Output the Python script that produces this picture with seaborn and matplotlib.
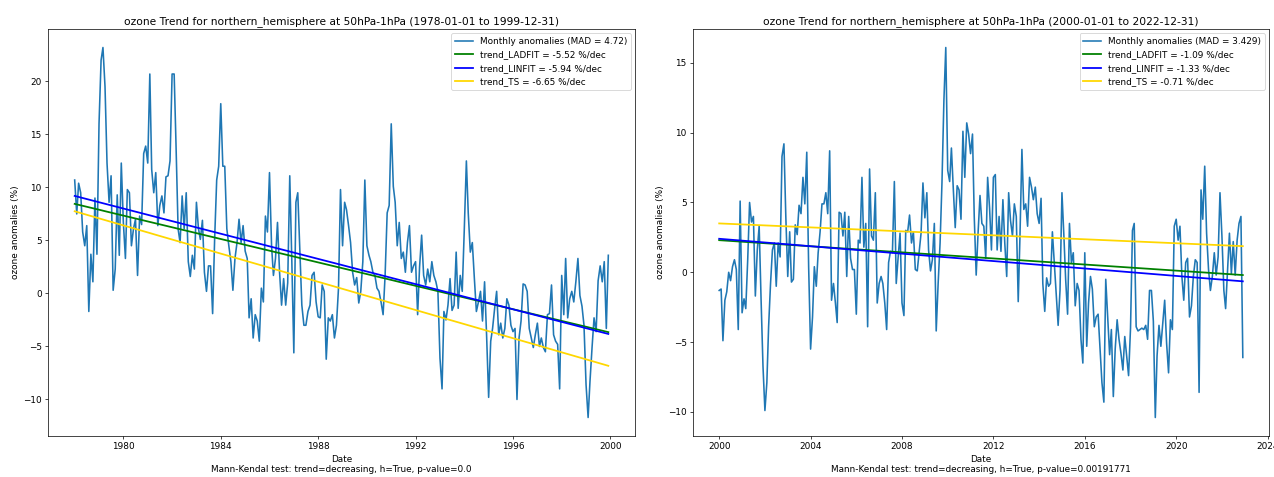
import numpy as np
import pandas as pd
import matplotlib
matplotlib.use("Agg")
import matplotlib.pyplot as plt
import seaborn as sns

# ---------------- data ----------------
start_1 = "1978-01-01"
anom_1 = [
    10.7, 7.5, 10.4, 9.5, 5.8, 4.5, 6.4, -1.7, 3.7, 1.1, 9.0, 3.7,        # 1978
    16.0, 22.0, 23.2, 19.5, 12.3, 8.6, 11.1, 0.3, 2.3, 9.3, 3.6, 12.3,    # 1979
    6.7, 3.3, 9.8, 9.5, 4.5, 6.1, 7.0, 1.7, 7.3, 6.5, 13.2, 13.9,         # 1980
    12.3, 20.7, 11.7, 9.5, 11.4, 6.4, 8.3, 9.2, 7.6, 11.0, 11.1, 12.5,    # 1981
    20.7, 20.7, 14.0, 6.1, 4.8, 9.2, 6.1, 9.5, 3.0, 1.6, 3.6, 2.3,        # 1982
    8.6, 6.1, 5.1, 6.9, 2.0, 0.2, 2.6, 2.6, -1.9, 5.1, 10.7, 12.0,        # 1983
    17.9, 12.0, 12.0, 6.1, 4.5, 3.0, 0.3, 3.3, 4.8, 7.0, 4.8, 6.4,        # 1984
    4.0, 3.3, -2.3, -0.5, -4.2, -2.0, -2.6, -4.5, 0.5, -0.8, 7.3, 5.8,    # 1985
    11.4, 4.5, 1.7, 3.3, 6.7, 2.0, -1.1, 1.4, -1.1, 1.0, 11.1, 3.3,       # 1986
    -5.6, 8.6, 9.5, 4.2, -1.1, -3.0, -3.0, -1.7, -1.1, 1.7, 2.0, -0.8,    # 1987
    -2.2, -2.3, 0.8, 0.2, -6.2, -2.3, -2.6, -2.0, -4.2, -3.0, 0.5, 9.8,   # 1988
    4.5, 8.6, 7.9, 6.4, 4.8, 2.0, 0.8, 1.5, -0.9, 0.2, 3.0, 10.7,         # 1989
    4.5, 3.6, 3.0, 2.0, 1.7, 0.5, 0.2, -0.8, -2.0, 1.7, 7.6, 8.3,         # 1990
    16.0, 10.1, 8.6, 4.5, 6.7, 3.3, 3.9, 2.0, 4.8, 6.4, 2.0, 2.6,         # 1991
    3.0, -2.0, 2.5, 5.5, 1.7, 0.8, 2.3, 1.1, 3.0, 1.7, 1.1, 0.2,          # 1992
    -6.1, -9.0, -1.7, -2.5, -1.1, 1.4, -1.6, -1.1, 3.9, -1.4, 1.7, 0.2,   # 1993
    6.1, 12.5, 7.6, 3.9, 4.8, 1.4, -1.7, -0.8, 0.2, -2.6, 1.1, -3.9,      # 1994
    -9.8, -4.5, -3.3, -1.4, 0.2, -3.9, -2.8, -4.2, -3.3, -0.5, -1.1, -3.0, # 1995
    -3.6, -3.3, -10.0, -4.2, -2.6, 0.9, 0.8, 0.2, -3.3, -4.2, -5.1, -3.9, # 1996
    -2.8, -5.0, -4.2, -5.1, -5.5, -2.0, -1.9, 0.8, -3.9, -4.5, -4.8, -9.0, # 1997
    1.7, -2.0, 3.3, -2.3, -0.5, 0.2, -0.8, 1.1, 3.3, -0.2, -1.2, -3.0,    # 1998
    -8.6, -11.7, -8.3, -5.1, -2.3, -3.6, 1.2, 2.6, 1.1, 3.0, -3.3, 3.6,   # 1999
]
start_2 = "2000-01-01"
anom_2 = [
    -1.3, -1.2, -4.9, -2.0, -1.4, 0.0, -0.6, 0.4, 0.9, 0.2, -4.1, 5.1,    # 2000
    -2.9, -1.9, -2.6, 0.9, 5.0, 3.6, 4.0, -1.7, 1.6, 3.3, -2.0, -6.7,     # 2001
    -9.9, -7.9, -3.9, -0.8, 1.6, 2.1, -1.0, 2.1, 1.1, 8.3, 9.2, 4.0,      # 2002
    -0.3, 2.9, -0.7, -0.5, 3.4, 2.7, 4.8, 4.2, 6.8, 4.9, 8.6, 0.4,        # 2003
    -5.5, -3.2, 0.4, -1.0, 1.4, 2.9, 4.9, 4.9, 5.7, 4.2, 8.7, -2.0,       # 2004
    -0.8, -2.2, -3.6, 4.3, 4.2, 2.6, 4.3, -0.3, 4.0, 1.0, 0.2, 0.2,       # 2005
    -3.0, 2.3, 2.1, 6.8, 1.8, 3.5, -3.9, 7.4, 2.6, 2.3, 5.7, -2.2,        # 2006
    -0.8, -0.3, -0.8, -2.2, -4.1, 0.7, 1.5, 1.4, 6.5, -0.8, 1.1, 2.8,     # 2007
    -2.2, -3.1, 3.0, 2.9, 4.1, 2.1, 2.9, 0.2, 0.1, 1.4, 2.8, 6.4,         # 2008
    3.9, 5.7, 1.6, 0.1, 0.9, 3.5, -4.2, -0.8, 2.1, 6.4, 12.3, 16.1,       # 2009
    7.3, 6.5, 8.9, 5.9, 3.2, 6.2, 5.9, 3.8, 10.1, 6.8, 10.7, 9.9,         # 2010
    8.5, 9.9, 4.0, -0.2, 2.8, 5.5, 3.5, 3.3, 1.0, 6.8, 4.6, 1.6,          # 2011
    6.8, 7.0, 1.6, 4.0, 1.5, 5.2, 2.1, -0.3, 5.7, 3.7, 2.6, 4.9,          # 2012
    4.0, -2.1, 2.6, 8.8, 4.5, 4.9, 3.3, 6.8, 6.1, 5.2, 6.1, 4.2,          # 2013
    3.5, 5.3, -0.8, -2.8, -0.4, -1.0, -0.8, 2.9, 0.6, -1.7, -3.8, -1.3,   # 2014
    5.7, 2.6, -0.5, -3.0, 3.5, 0.7, 1.4, -2.4, -0.8, -1.3, -4.8, -6.5,    # 2015
    1.4, -5.3, -2.2, -0.3, -1.2, -3.9, -3.2, -3.0, -5.5, -7.9, -9.3, -0.5, # 2016
    -3.2, -5.9, -4.1, -8.9, -5.5, -3.4, -4.8, -5.8, -7.0, -4.6, -6.0, -7.4, # 2017
    -4.0, 3.0, 3.5, -3.9, -4.2, -4.1, -4.0, -4.1, -3.8, -4.8, -1.3, -1.3, # 2018
    -3.5, -10.4, -6.0, -3.8, -5.3, -3.6, -2.0, -5.1, -7.2, -3.4, -4.1, 3.3, # 2019
    3.8, 2.3, 3.3, -0.3, -2.0, 0.7, 1.0, -3.2, -2.4, -0.3, 0.9, 0.7,      # 2020
    -8.6, 5.9, 3.8, 7.6, 2.8, 0.2, -1.3, -0.3, 1.4, -0.2, 1.1, 5.7,       # 2021
    2.6, -1.3, -2.6, 0.2, 2.8, -0.1, 2.2, -0.2, 2.3, 3.5, 4.0, -6.1,      # 2022
]

trend_names = ["trend_LADFIT", "trend_LINFIT", "trend_TS"]
slopes_1 = [-5.52, -5.94, -6.65]       # %/dec
starts_1 = [8.45, 9.2, 7.75]           # trend value at first month
slopes_2 = [-1.09, -1.33, -0.71]
starts_2 = [2.3, 2.4, 3.5]
mad_labels = ["4.72", "3.429"]
titles = ["ozone Trend for northern_hemisphere at 50hPa-1hPa (1978-01-01 to 1999-12-31)",
          "ozone Trend for northern_hemisphere at 50hPa-1hPa (2000-01-01 to 2022-12-31)"]
mk_texts = ["Mann-Kendal test: trend=decreasing, h=True, p-value=0.0",
            "Mann-Kendal test: trend=decreasing, h=True, p-value=0.00191771"]

series_color = "#1f77b4"
trend_colors = ["green", "blue", "gold"]

# ---------------- figure ----------------
fig = plt.figure(figsize=(1274 / 64, 477 / 64), dpi=64)
ax_pos = [[48 / 1274, 41 / 477, 587 / 1274, 407 / 477],
          [693 / 1274, 41 / 477, 576 / 1274, 407 / 477]]

panels = [(start_1, anom_1, slopes_1, starts_1),
          (start_2, anom_2, slopes_2, starts_2)]

for i, (start, anom, slopes, starts) in enumerate(panels):
    ax = fig.add_axes(ax_pos[i])
    dates = pd.date_range(start, periods=len(anom), freq="MS")
    months = np.arange(len(anom))
    df = pd.DataFrame({"Date": dates, "anom": anom})
    sns.lineplot(data=df, x="Date", y="anom", ax=ax, color=series_color,
                 linewidth=1.8, label=f"Monthly anomalies (MAD = {mad_labels[i]})")
    for name, s, b, c in zip(trend_names, slopes, starts, trend_colors):
        tdf = pd.DataFrame({"Date": dates, "t": b + s / 120.0 * months})
        sns.lineplot(data=tdf, x="Date", y="t", ax=ax, color=c, linewidth=2.0,
                     label=f"{name} = {s} %/dec")
    ax.set_title(titles[i], fontsize=12)
    ax.set_ylabel("ozone anomalies (%)")
    ax.set_xlabel("Date\n" + mk_texts[i])
    ax.legend(loc="upper right")

fig.savefig("out.png", dpi=64)
